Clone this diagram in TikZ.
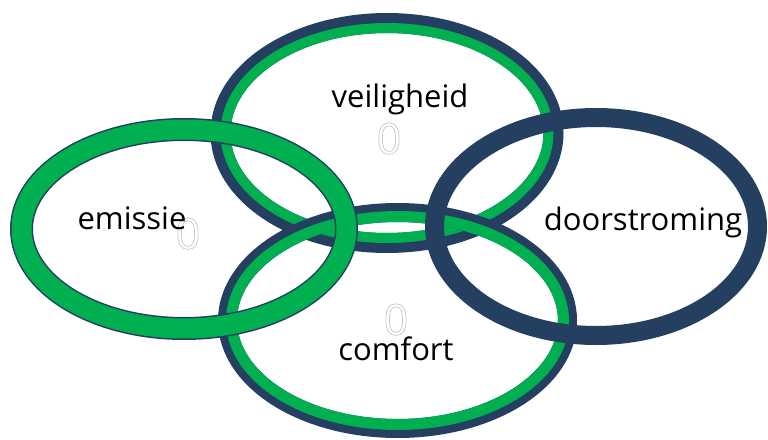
\documentclass[tikz,border=0pt]{standalone}
\usepackage{fontspec}
\setmainfont{Open Sans}
\definecolor{navy}{HTML}{243F60}
\definecolor{ogreen}{HTML}{00B050}
\newcommand\hollowtxt[1]{\special{pdf:literal direct 1 Tr 0.7 w}#1\special{pdf:literal direct 0 Tr}}
\begin{document}
\begin{tikzpicture}[x=1pt,y=-1pt,
  lbl/.style={anchor=base, inner sep=0pt, font=\fontsize{31}{36}\selectfont, text=black},
  zero/.style={anchor=base, inner sep=0pt, font=\fontsize{43}{50}\selectfont, text=black!22},
  navyring/.style={draw=navy},
  greenring/.style={draw=ogreen}]
\useasboundingbox (0,0) rectangle (768,439);
\fill[white] (0,0) rectangle (768,439);
\coordinate (cv) at (387,133);
\coordinate (cc) at (397.5,320.5);
\coordinate (ce) at (184,229);
\coordinate (cd) at (596,226.5);
% veiligheid ring
\draw[navyring, line width=20pt] (cv) ellipse [x radius=166.5, y radius=110];
\draw[greenring, line width=10pt] (cv) ellipse [x radius=161.5, y radius=105];
% comfort ring
\draw[navyring, line width=19pt] (cc) ellipse [x radius=170, y radius=108];
\draw[greenring, line width=11pt] (cc) ellipse [x radius=166, y radius=104];
% emissie ring
\draw[navyring, line width=23pt] (ce) ellipse [x radius=162.5, y radius=99.5];
\draw[greenring, line width=20pt] (ce) ellipse [x radius=162.5, y radius=99.5];
% doorstroming ring
\draw[navyring, line width=19pt] (cd) ellipse [x radius=161.5, y radius=109];
% placeholder zeros
\node[zero] (z1) at (389,154) {\hollowtxt{0}};
\node[zero] (z2) at (188,249) {\hollowtxt{0}};
\node[zero] (z3) at (396,335) {\hollowtxt{0}};
% labels
\node[lbl] (veil) at (400,107) {veiligheid};
\node[lbl] (emis) at (132,229) {emissie};
\node[lbl] (door) at (643,230) {doorstroming};
\node[lbl] (comf) at (396,360) {comfort};
\end{tikzpicture}
\end{document}
